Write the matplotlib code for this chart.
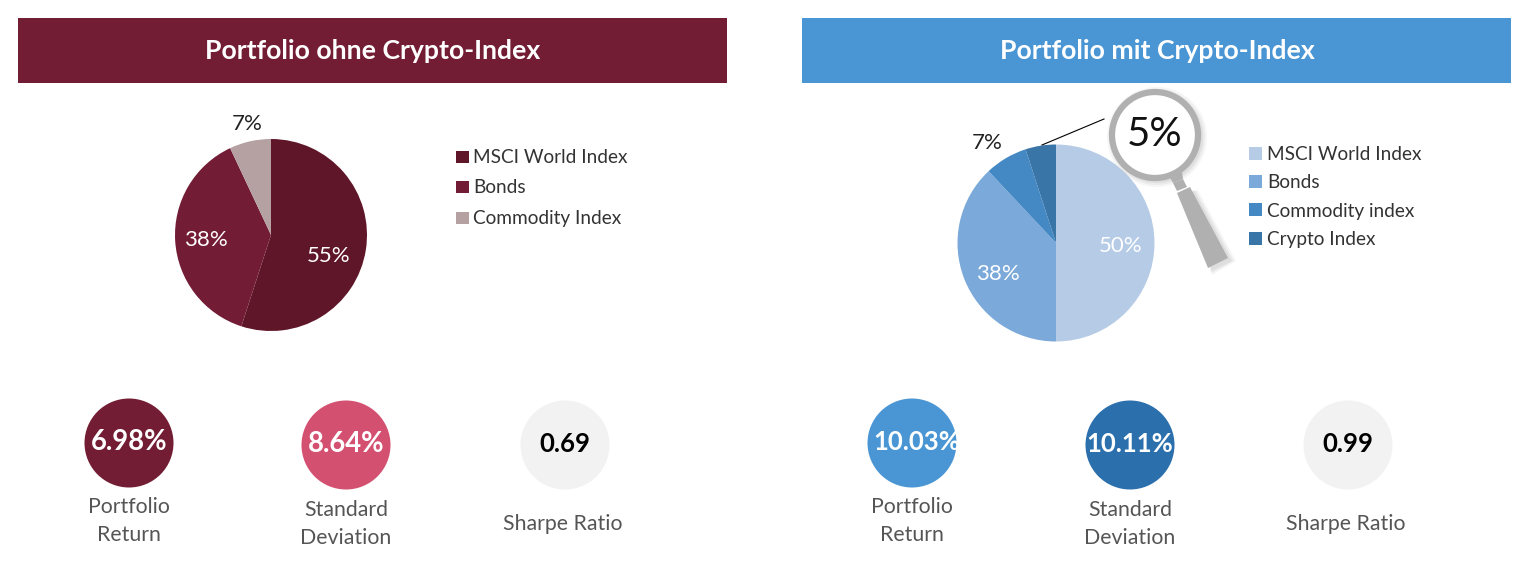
import matplotlib
matplotlib.use('Agg')
import matplotlib.pyplot as plt
from matplotlib.patches import Circle, Polygon, Rectangle

plt.rcParams['font.family'] = ['Lato', 'DejaVu Sans']

W, H = 1524, 565

# left panel
titles = ['Portfolio ohne Crypto-Index', 'Portfolio mit Crypto-Index']
header_colors = ['#721D34', '#4A96D4']

left_labels = ['MSCI World Index', 'Bonds', 'Commodity Index']
left_values = [55, 38, 7]
left_colors = ['#5F1628', '#721C35', '#B5A0A2']

# right panel
right_labels = ['MSCI World Index', 'Bonds', 'Commodity index', 'Crypto Index']
right_values = [50, 38, 7, 5]
right_colors = ['#B5CBE6', '#7BA9DA', '#4489C4', '#3A75A8']

# kpi circles
kpi_names = ['Portfolio\nReturn', 'Standard\nDeviation', 'Sharpe Ratio']
left_kpis = ['6.98%', '8.64%', '0.69']
right_kpis = ['10.03%', '10.11%', '0.99']
left_kpi_colors = ['#721D34', '#D45071', '#F2F2F2']
right_kpi_colors = ['#4A96D4', '#2B70AC', '#F2F2F2']


def Y(y):
    # picture coordinates run downwards
    return H - y


def label(x, y, s, size, color='black', weight='normal', ha='center', **kw):
    return ax.text(x, Y(y), s, fontsize=size, color=color, fontweight=weight,
                   ha=ha, va='center', **kw)


fig = plt.figure(figsize=(W / 100, H / 100), dpi=100)
ax = fig.add_axes([0, 0, 1, 1])

ax.pie(left_values, colors=left_colors, startangle=90, counterclock=False,
       center=(271, Y(235)), radius=96)
ax.pie(right_values, colors=right_colors, startangle=90, counterclock=False,
       center=(1056, Y(243)), radius=98.5)
ax.set_xlim(0, W)
ax.set_ylim(0, H)
ax.set_aspect('equal')
ax.axis('off')

# headers
for x0, x1, title, col in zip([18, 802], [727, 1511], titles, header_colors):
    ax.add_patch(Rectangle((x0, Y(83)), x1 - x0, 65, color=col, lw=0))
    label((x0 + x1) / 2 + 0.5, 51, title, 19.2, 'white', 'bold')

# pie labels
label(247, 124, '7%', 16, '#222222')
label(206, 240, '38%', 16, 'white')
label(329, 256, '55%', 16, 'white')
label(987, 143, '7%', 16, '#222222')
label(998, 274, '38%', 16, 'white')
label(1121, 246, '50%', 16, 'white')

# legends
for name, col, y in zip(left_labels, left_colors, [157, 187, 218]):
    ax.add_patch(Rectangle((456, Y(y + 6)), 12.5, 12.5, color=col, lw=0))
    label(473, y + 0.5, name, 13.7, '#333333', ha='left')
for name, col, y in zip(right_labels, right_colors, [154, 182, 210, 239]):
    ax.add_patch(Rectangle((1249, Y(y + 6)), 13, 13, color=col, lw=0))
    label(1267, y + 1, name, 13.7, '#333333', ha='left')

# magnifier, soft shadow first
for grow, alpha in [(4, 0.12), (2, 0.18), (0, 0.25)]:
    ax.add_patch(Polygon([(1181 + grow, Y(196)), (1194 + grow, Y(190)),
                          (1232 + grow, Y(261)), (1212, Y(271 + grow))],
                         color='#BBBBBB', lw=0, alpha=alpha))
    ax.add_patch(Circle((1157, Y(137)), 46 + grow, color='#BBBBBB', lw=0, alpha=alpha))
ax.add_patch(Polygon([(1168, Y(174)), (1182, Y(172)), (1183, Y(179)), (1173, Y(183))],
                     color='#B0B0B0', lw=0))
ax.add_patch(Polygon([(1173, Y(183)), (1183, Y(179)), (1187, Y(187)), (1177, Y(191))],
                     color='#B0B0B0', lw=0))
ax.add_patch(Polygon([(1177, Y(193)), (1190, Y(187)), (1228, Y(258)), (1208, Y(268))],
                     color='#B0B0B0', lw=0))
ax.add_patch(Circle((1155, Y(135)), 43, fc='white', ec='#B0B0B0', lw=4.5))
label(1155, 135, '5%', 29, '#111111')
ax.plot([1042, 1104], [Y(145), Y(119)], color='black', lw=0.8)

# kpi circles
for xs, vals, cols in [([129, 346, 565], left_kpis, left_kpi_colors),
                       ([912, 1130, 1348], right_kpis, right_kpi_colors)]:
    for i, (x, val, col, name) in enumerate(zip(xs, vals, cols, kpi_names)):
        cy = 443 if i == 0 else 445
        c = Circle((x, Y(cy)), 44.5, color=col, lw=0)
        ax.add_patch(c)
        txt = 'black' if col == '#F2F2F2' else 'white'
        size = 19.8 if len(val) == 5 else 18.5
        t = label(x + (5 if val == '10.03%' else 0), cy - 1, val, size, txt, 'bold')
        t.set_clip_path(c)
        ny = [521, 524, 524][i]
        label(x - (2 if i == 2 else 0), ny, name, 15.3, '#555555', linespacing=1.45)

fig.savefig('out.png', dpi=100)
